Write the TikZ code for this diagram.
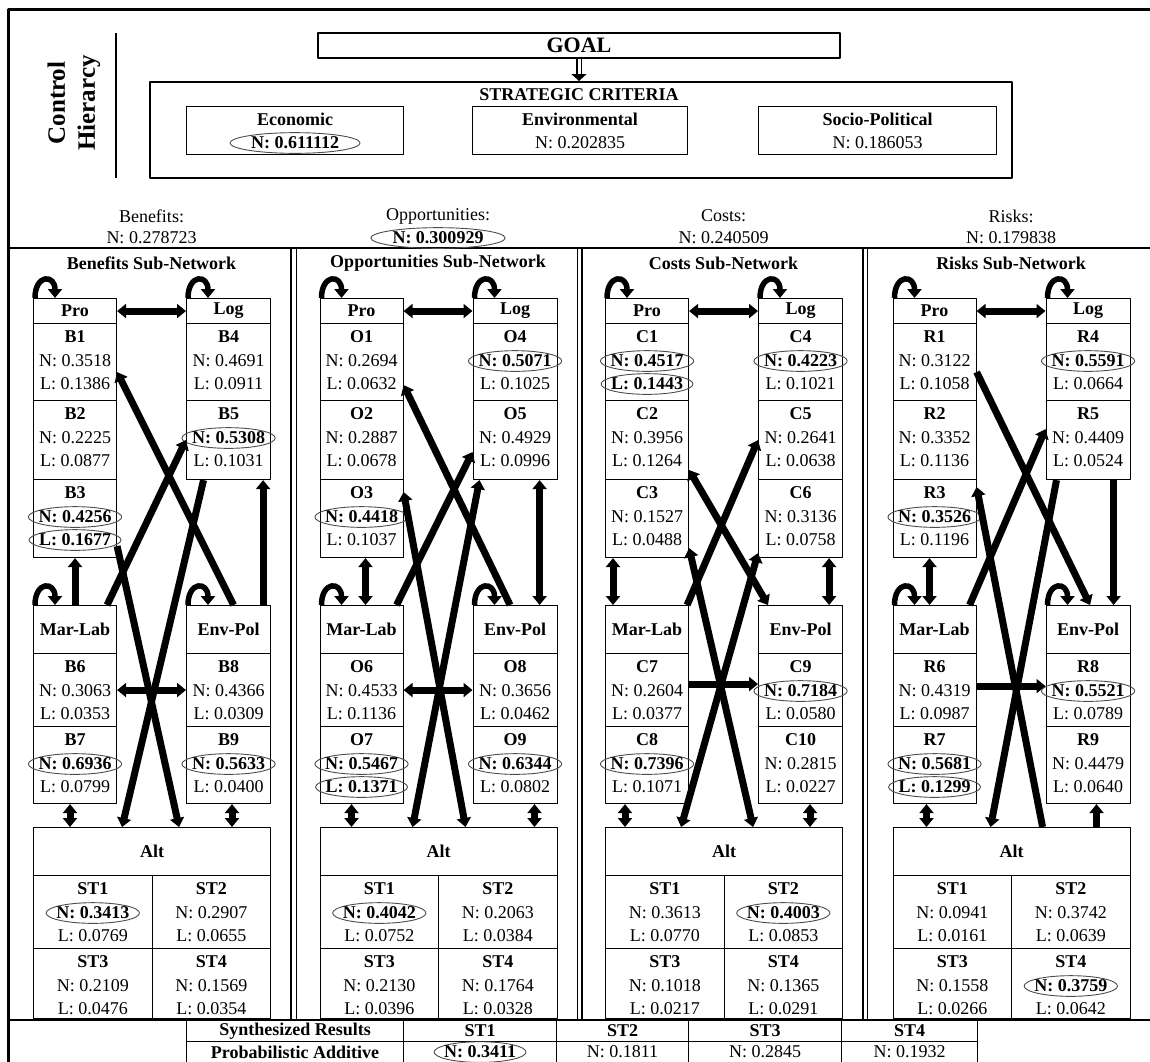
\documentclass[tikz,border=0pt]{standalone}
\usepackage{fontspec}
\setmainfont{Liberation Serif}
\usetikzlibrary{arrows.meta, shapes.geometric}

% one element cell: name, top-left, width, height, label, N style, N, L style, L
\newcommand{\elemcell}[9]{%
  \node[cell, minimum width=#3pt, minimum height=#4pt] (#1) at (#2) {};
  \node[lbl] (#1t) at ([yshift=-14pt]#1.north) {#5};
  \node[#6] (#1n) at ([yshift=-38pt]#1.north) {N: #7};
  \node[#8] (#1l) at ([yshift=-61pt]#1.north) {L: #9};
}

\begin{document}
\begin{tikzpicture}[x=1pt, y=-1pt, line join=round, >={Triangle[length=9pt, width=14pt]},
  cell/.style={draw, line width=1.1pt, anchor=north west, inner sep=0pt},
  hdr/.style={cell, minimum width=83pt, font=\fontsize{18}{20}\selectfont\bfseries},
  lbl/.style={inner sep=0pt, font=\fontsize{18}{20}\selectfont\bfseries},
  val/.style={inner sep=0pt, font=\fontsize{18}{20}\selectfont},
  ring/.style={ellipse, draw=black!70, line width=0.9pt, inner xsep=-3.5pt, inner ysep=1.2pt, font=\fontsize{18}{20}\selectfont\bfseries},
  bigring/.style={ring, inner xsep=2pt},
  link/.style={line width=7pt},
  selfloop/.style={line width=5.5pt, ->},
  panel/.style={line width=1.5pt},
  tbl/.style={cell, minimum height=21pt, font=\fontsize{18}{20}\selectfont\bfseries}]
\useasboundingbox (0,0) rectangle (1150,1061);
\clip (0,0) rectangle (1150,1061);

% Frame
\draw[line width=3pt] (8,9) rectangle (1170,1080);
\draw[line width=2.5pt] (8,248) -- (1170,248);
\draw[line width=2.5pt] (8,1020) -- (1170,1020);

% Control hierarchy
\node[rotate=90, align=center, inner sep=0pt, font=\fontsize{25}{30}\selectfont\bfseries] (ctrl) at (74,103) {Control\\Hierarcy};
\draw[line width=1.2pt] (116,33) -- (116,178);
\node[draw, line width=2pt, minimum width=522pt, minimum height=25pt, inner sep=0pt, font=\fontsize{22}{24}\selectfont\bfseries] (goal) at (579,45.5) {GOAL};
\node[draw, line width=2pt, minimum width=862pt, minimum height=96pt, inner sep=0pt] (strat) at (581,130) {};
\node[lbl] (stratlbl) at (579,95) {STRATEGIC CRITERIA};
\draw[line width=1.4pt, double, double distance=3pt, -{Triangle[length=7pt, width=15pt]}] (goal.south) -- (goal.south |- strat.north);

\node[cell, minimum width=217pt, minimum height=48pt] (econ) at (186,106) {};
\node[lbl] (econt) at ([yshift=-13pt]econ.north) {Economic};
\node[bigring] (econn) at ([yshift=-37pt]econ.north) {N: 0.611112};
\node[cell, minimum width=215pt, minimum height=48pt] (envir) at (472,106) {};
\node[lbl] (envirt) at ([yshift=-13pt]envir.north) {Environmental};
\node[val] (envirn) at ([yshift=-37pt]envir.north) {N: 0.202835};
\node[cell, minimum width=238pt, minimum height=48pt] (socio) at (758,106) {};
\node[lbl] (sociot) at ([yshift=-13pt]socio.north) {Socio-Political};
\node[val] (socion) at ([yshift=-37pt]socio.north) {N: 0.186053};

% Benefits sub-network
\draw[panel] (8,248) rectangle (291,1020);
\node[val] (bname) at (151.5,216) {Benefits:};
\node[val] (bprio) at (151.5,238) {N: 0.278723};
\node[lbl] (bttl) at (151.5,263) {Benefits Sub-Network};
\node[hdr, minimum height=25pt] (bpro) at (33,298) {Pro};
\elemcell{b1}{33,323}{83}{77}{B1}{val}{0.3518}{val}{0.1386}
\elemcell{b2}{33,400}{83}{79}{B2}{val}{0.2225}{val}{0.0877}
\elemcell{b3}{33,479}{83}{78}{B3}{ring}{0.4256}{ring}{0.1677}
\node[hdr, minimum width=84pt, minimum height=25pt] (blog) at (186,298) {Log};
\elemcell{b4}{186,323}{84}{77}{B4}{val}{0.4691}{val}{0.0911}
\elemcell{b5}{186,400}{84}{79}{B5}{ring}{0.5308}{val}{0.1031}
\node[hdr, minimum height=48pt] (bmar) at (33,605) {Mar-Lab};
\elemcell{b6}{33,653}{83}{73}{B6}{val}{0.3063}{val}{0.0353}
\elemcell{b7}{33,726}{83}{77}{B7}{ring}{0.6936}{val}{0.0799}
\node[hdr, minimum width=84pt, minimum height=48pt] (benv) at (186,605) {Env-Pol};
\elemcell{b8}{186,653}{84}{73}{B8}{val}{0.4366}{val}{0.0309}
\elemcell{b9}{186,726}{84}{77}{B9}{ring}{0.5633}{val}{0.0400}
\node[hdr, minimum width=237pt, minimum height=48pt] (balt) at (33,827) {Alt};
\elemcell{bst1}{33,875}{118.5}{73}{ST1}{ring}{0.3413}{val}{0.0769}
\elemcell{bst2}{151.5,875}{118.5}{73}{ST2}{val}{0.2907}{val}{0.0655}
\elemcell{bst3}{33,948}{118.5}{70}{ST3}{val}{0.2109}{val}{0.0476}
\elemcell{bst4}{151.5,948}{118.5}{70}{ST4}{val}{0.1569}{val}{0.0354}

\draw[link, <->] (bpro.east) -- (blog.west);
\draw[link, <-] ([yshift=-10pt]b1.east) -- ([xshift=5pt]benv.north);
\draw[link, ->] ([xshift=-10pt]bmar.north east) -- (b5.west);
\draw[link, ->] ([yshift=12pt]b3.south east) -- ([xshift=27pt]balt.north);
\draw[link, ->] ([xshift=-25pt]b5.south) -- ([xshift=-30pt]balt.north);
\draw[link, ->] (bmar.north) -- (b3.south);
\draw[link, ->] ([xshift=-8pt]benv.north east) -- ([xshift=-8pt]b5.south east);
\draw[link, <->] (b6.east) -- (b8.west);
\draw[link, <->] ([xshift=37pt]b7.south west) -- ([xshift=37pt]balt.north west);
\draw[link, <->] ([xshift=46pt]b9.south west) -- ([xshift=199pt]balt.north west);
\draw[selfloop] ([xshift=2pt]bpro.north west) .. controls +(0,-24) and +(0,-24) .. ([xshift=22pt]bpro.north west);
\draw[selfloop] ([xshift=2pt]blog.north west) .. controls +(0,-24) and +(0,-24) .. ([xshift=22pt]blog.north west);
\draw[selfloop] ([xshift=2pt]bmar.north west) .. controls +(0,-24) and +(0,-24) .. ([xshift=22pt]bmar.north west);
\draw[selfloop] ([xshift=2pt]benv.north west) .. controls +(0,-24) and +(0,-24) .. ([xshift=22pt]benv.north west);

% Opportunities sub-network
\begin{scope}[xshift=286.5pt]
\draw[panel] (10,248) rectangle (291,1020);
\node[val] (oname) at (151.5,216) {Opportunities:};
\node[bigring] (oprio) at (151.5,238) {N: 0.300929};
\node[lbl] (ottl) at (151.5,263) {Opportunities Sub-Network};
\node[hdr, minimum height=25pt] (opro) at (33,298) {Pro};
\elemcell{o1}{33,323}{83}{77}{O1}{val}{0.2694}{val}{0.0632}
\elemcell{o2}{33,400}{83}{79}{O2}{val}{0.2887}{val}{0.0678}
\elemcell{o3}{33,479}{83}{78}{O3}{ring}{0.4418}{val}{0.1037}
\node[hdr, minimum width=84pt, minimum height=25pt] (olog) at (186,298) {Log};
\elemcell{o4}{186,323}{84}{77}{O4}{ring}{0.5071}{val}{0.1025}
\elemcell{o5}{186,400}{84}{79}{O5}{val}{0.4929}{val}{0.0996}
\node[hdr, minimum height=48pt] (omar) at (33,605) {Mar-Lab};
\elemcell{o6}{33,653}{83}{73}{O6}{val}{0.4533}{val}{0.1136}
\elemcell{o7}{33,726}{83}{77}{O7}{ring}{0.5467}{ring}{0.1371}
\node[hdr, minimum width=84pt, minimum height=48pt] (oenv) at (186,605) {Env-Pol};
\elemcell{o8}{186,653}{84}{73}{O8}{val}{0.3656}{val}{0.0462}
\elemcell{o9}{186,726}{84}{77}{O9}{ring}{0.6344}{val}{0.0802}
\node[hdr, minimum width=237pt, minimum height=48pt] (oalt) at (33,827) {Alt};
\elemcell{ost1}{33,875}{118.5}{73}{ST1}{ring}{0.4042}{val}{0.0752}
\elemcell{ost2}{151.5,875}{118.5}{73}{ST2}{val}{0.2063}{val}{0.0384}
\elemcell{ost3}{33,948}{118.5}{70}{ST3}{val}{0.2130}{val}{0.0396}
\elemcell{ost4}{151.5,948}{118.5}{70}{ST4}{val}{0.1764}{val}{0.0328}

\draw[link, <->] (opro.east) -- (olog.west);
\draw[link, <-] ([yshift=-23pt]o1.east) -- ([xshift=-5pt]oenv.north);
\draw[link, ->] ([xshift=-7pt]omar.north east) -- ([yshift=-12pt]o5.west);
\draw[link, <->] ([yshift=-13pt]o3.north east) -- ([xshift=27pt]oalt.north);
\draw[link, <->] ([xshift=7pt]o5.south west) -- ([xshift=-26pt]oalt.north);
\draw[link, <->] ([xshift=46pt]omar.north west) -- ([xshift=46pt]o3.south west);
\draw[link, <->] ([xshift=-18pt]oenv.north east) -- ([xshift=-18pt]o5.south east);
\draw[link, <->] (o6.east) -- (o8.west);
\draw[link, <->] ([xshift=32pt]o7.south west) -- ([xshift=32pt]oalt.north west);
\draw[link, <->] ([xshift=62pt]o9.south west) -- ([xshift=215pt]oalt.north west);
\draw[selfloop] ([xshift=2pt]opro.north west) .. controls +(0,-24) and +(0,-24) .. ([xshift=22pt]opro.north west);
\draw[selfloop] ([xshift=2pt]olog.north west) .. controls +(0,-24) and +(0,-24) .. ([xshift=22pt]olog.north west);
\draw[selfloop] ([xshift=2pt]omar.north west) .. controls +(0,-24) and +(0,-24) .. ([xshift=22pt]omar.north west);
\draw[selfloop] ([xshift=2pt]oenv.north west) .. controls +(0,-24) and +(0,-24) .. ([xshift=22pt]oenv.north west);
\end{scope}

% Costs sub-network
\begin{scope}[xshift=572pt]
\draw[panel] (10,248) rectangle (291,1020);
\node[val] (cname) at (151.5,216) {Costs:};
\node[val] (cprio) at (151.5,238) {N: 0.240509};
\node[lbl] (cttl) at (151.5,263) {Costs Sub-Network};
\node[hdr, minimum height=25pt] (cpro) at (33,298) {Pro};
\elemcell{c1}{33,323}{83}{77}{C1}{ring}{0.4517}{ring}{0.1443}
\elemcell{c2}{33,400}{83}{79}{C2}{val}{0.3956}{val}{0.1264}
\elemcell{c3}{33,479}{83}{78}{C3}{val}{0.1527}{val}{0.0488}
\node[hdr, minimum width=84pt, minimum height=25pt] (clog) at (186,298) {Log};
\elemcell{c4}{186,323}{84}{77}{C4}{ring}{0.4223}{val}{0.1021}
\elemcell{c5}{186,400}{84}{79}{C5}{val}{0.2641}{val}{0.0638}
\elemcell{c6}{186,479}{84}{78}{C6}{val}{0.3136}{val}{0.0758}
\node[hdr, minimum height=48pt] (cmar) at (33,605) {Mar-Lab};
\elemcell{c7}{33,653}{83}{73}{C7}{val}{0.2604}{val}{0.0377}
\elemcell{c8}{33,726}{83}{77}{C8}{ring}{0.7396}{val}{0.1071}
\node[hdr, minimum width=84pt, minimum height=48pt] (cenv) at (186,605) {Env-Pol};
\elemcell{c9}{186,653}{84}{73}{C9}{ring}{0.7184}{val}{0.0580}
\elemcell{c10}{186,726}{84}{77}{C10}{val}{0.2815}{val}{0.0227}
\node[hdr, minimum width=237pt, minimum height=48pt] (calt) at (33,827) {Alt};
\elemcell{cst1}{33,875}{118.5}{73}{ST1}{val}{0.3613}{val}{0.0770}
\elemcell{cst2}{151.5,875}{118.5}{73}{ST2}{ring}{0.4003}{val}{0.0853}
\elemcell{cst3}{33,948}{118.5}{70}{ST3}{val}{0.1018}{val}{0.0217}
\elemcell{cst4}{151.5,948}{118.5}{70}{ST4}{val}{0.1365}{val}{0.0291}

\draw[link, <->] (cpro.east) -- (clog.west);
\draw[link, <->] ([yshift=-30pt]c2.east) -- ([xshift=10pt]cenv.north west);
\draw[link, ->] ([xshift=-2pt]cmar.north east) -- (c5.west);
\draw[link, <->] ([yshift=10pt]c3.south east) -- ([xshift=29pt]calt.north);
\draw[link, <->] ([yshift=5pt]c6.south west) -- ([xshift=-43pt]calt.north);
\draw[link, <->] ([xshift=8pt]cmar.north west) -- ([xshift=8pt]c3.south west);
\draw[link, <->] ([xshift=-14pt]cenv.north east) -- ([xshift=-14pt]c6.south east);
\draw[link, ->] ([yshift=6pt]c7.east) -- ([yshift=6pt]c9.west);
\draw[link, <->] ([xshift=20pt]c8.south west) -- ([xshift=20pt]calt.north west);
\draw[link, <->] ([xshift=52pt]c10.south west) -- ([xshift=205pt]calt.north west);
\draw[selfloop] ([xshift=2pt]cpro.north west) .. controls +(0,-24) and +(0,-24) .. ([xshift=22pt]cpro.north west);
\draw[selfloop] ([xshift=2pt]clog.north west) .. controls +(0,-24) and +(0,-24) .. ([xshift=22pt]clog.north west);
\end{scope}

% Risks sub-network
\begin{scope}[xshift=859.5pt]
\draw[panel] (8,248) rectangle (295,1020);
\node[val] (rname) at (151.5,216) {Risks:};
\node[val] (rprio) at (151.5,238) {N: 0.179838};
\node[lbl] (rttl) at (151.5,263) {Risks Sub-Network};
\node[hdr, minimum height=25pt] (rpro) at (33,298) {Pro};
\elemcell{r1}{33,323}{83}{77}{R1}{val}{0.3122}{val}{0.1058}
\elemcell{r2}{33,400}{83}{79}{R2}{val}{0.3352}{val}{0.1136}
\elemcell{r3}{33,479}{83}{78}{R3}{ring}{0.3526}{val}{0.1196}
\node[hdr, minimum width=84pt, minimum height=25pt] (rlog) at (186,298) {Log};
\elemcell{r4}{186,323}{84}{77}{R4}{ring}{0.5591}{val}{0.0664}
\elemcell{r5}{186,400}{84}{79}{R5}{val}{0.4409}{val}{0.0524}
\node[hdr, minimum height=48pt] (rmar) at (33,605) {Mar-Lab};
\elemcell{r6}{33,653}{83}{73}{R6}{val}{0.4319}{val}{0.0987}
\elemcell{r7}{33,726}{83}{77}{R7}{ring}{0.5681}{ring}{0.1299}
\node[hdr, minimum width=84pt, minimum height=48pt] (renv) at (186,605) {Env-Pol};
\elemcell{r8}{186,653}{84}{73}{R8}{ring}{0.5521}{val}{0.0789}
\elemcell{r9}{186,726}{84}{77}{R9}{val}{0.4479}{val}{0.0640}
\node[hdr, minimum width=237pt, minimum height=48pt] (ralt) at (33,827) {Alt};
\elemcell{rst1}{33,875}{118.5}{73}{ST1}{val}{0.0941}{val}{0.0161}
\elemcell{rst2}{151.5,875}{118.5}{73}{ST2}{val}{0.3742}{val}{0.0639}
\elemcell{rst3}{33,948}{118.5}{70}{ST3}{val}{0.1558}{val}{0.0266}
\elemcell{rst4}{151.5,948}{118.5}{70}{ST4}{ring}{0.3759}{val}{0.0642}

\draw[link, <->] (rpro.east) -- (rlog.west);
\draw[link, ->] ([yshift=-10pt]r1.east) -- ([xshift=2pt]renv.north);
\draw[link, ->] ([xshift=-7pt]rmar.north east) -- ([yshift=11pt]r5.west);
\draw[link, <-] ([yshift=-8pt]r3.north east) -- ([xshift=31pt]ralt.north);
\draw[link, ->] ([xshift=11pt]r5.south west) -- ([xshift=-21pt]ralt.north);
\draw[link, <->] ([xshift=37pt]rmar.north west) -- ([xshift=37pt]r3.south west);
\draw[link, ->] ([xshift=-17pt]r5.south east) -- ([xshift=-17pt]renv.north east);
\draw[link, ->] ([yshift=4pt]r6.east) -- ([yshift=4pt]r8.west);
\draw[link, <->] ([xshift=34pt]r7.south west) -- ([xshift=34pt]ralt.north west);
\draw[link, ->] ([xshift=204pt]ralt.north west) -- ([xshift=51pt]r9.south west);
\draw[selfloop] ([xshift=2pt]rpro.north west) .. controls +(0,-24) and +(0,-24) .. ([xshift=22pt]rpro.north west);
\draw[selfloop] ([xshift=2pt]rlog.north west) .. controls +(0,-24) and +(0,-24) .. ([xshift=22pt]rlog.north west);
\draw[selfloop] ([xshift=2pt]rmar.north west) .. controls +(0,-24) and +(0,-24) .. ([xshift=22pt]rmar.north west);
\draw[selfloop] ([xshift=2pt]renv.north west) .. controls +(0,-24) and +(0,-24) .. ([xshift=22pt]renv.north west);
\end{scope}

% Synthesized results
\node[tbl, minimum width=217pt] (synhd) at (186,1020) {Synthesized Results};
\node[tbl, minimum width=153pt] (syn1) at (403,1020) {ST1};
\node[tbl, minimum width=132pt] (syn2) at (556,1020) {ST2};
\node[tbl, minimum width=153pt] (syn3) at (688,1020) {ST3};
\node[tbl, minimum width=136pt] (syn4) at (841,1020) {ST4};
\node[tbl, minimum width=217pt] (addhd) at (186,1041) {Probabilistic Additive};
\node[tbl, minimum width=153pt] (add1) at (403,1041) {};
\node[ring] (add1n) at (add1.center) {N: 0.3411};
\node[tbl, minimum width=132pt, font=\fontsize{18}{20}\selectfont] (add2) at (556,1041) {N: 0.1811};
\node[tbl, minimum width=153pt, font=\fontsize{18}{20}\selectfont] (add3) at (688,1041) {N: 0.2845};
\node[tbl, minimum width=136pt, font=\fontsize{18}{20}\selectfont] (add4) at (841,1041) {N: 0.1932};
\end{tikzpicture}
\end{document}
